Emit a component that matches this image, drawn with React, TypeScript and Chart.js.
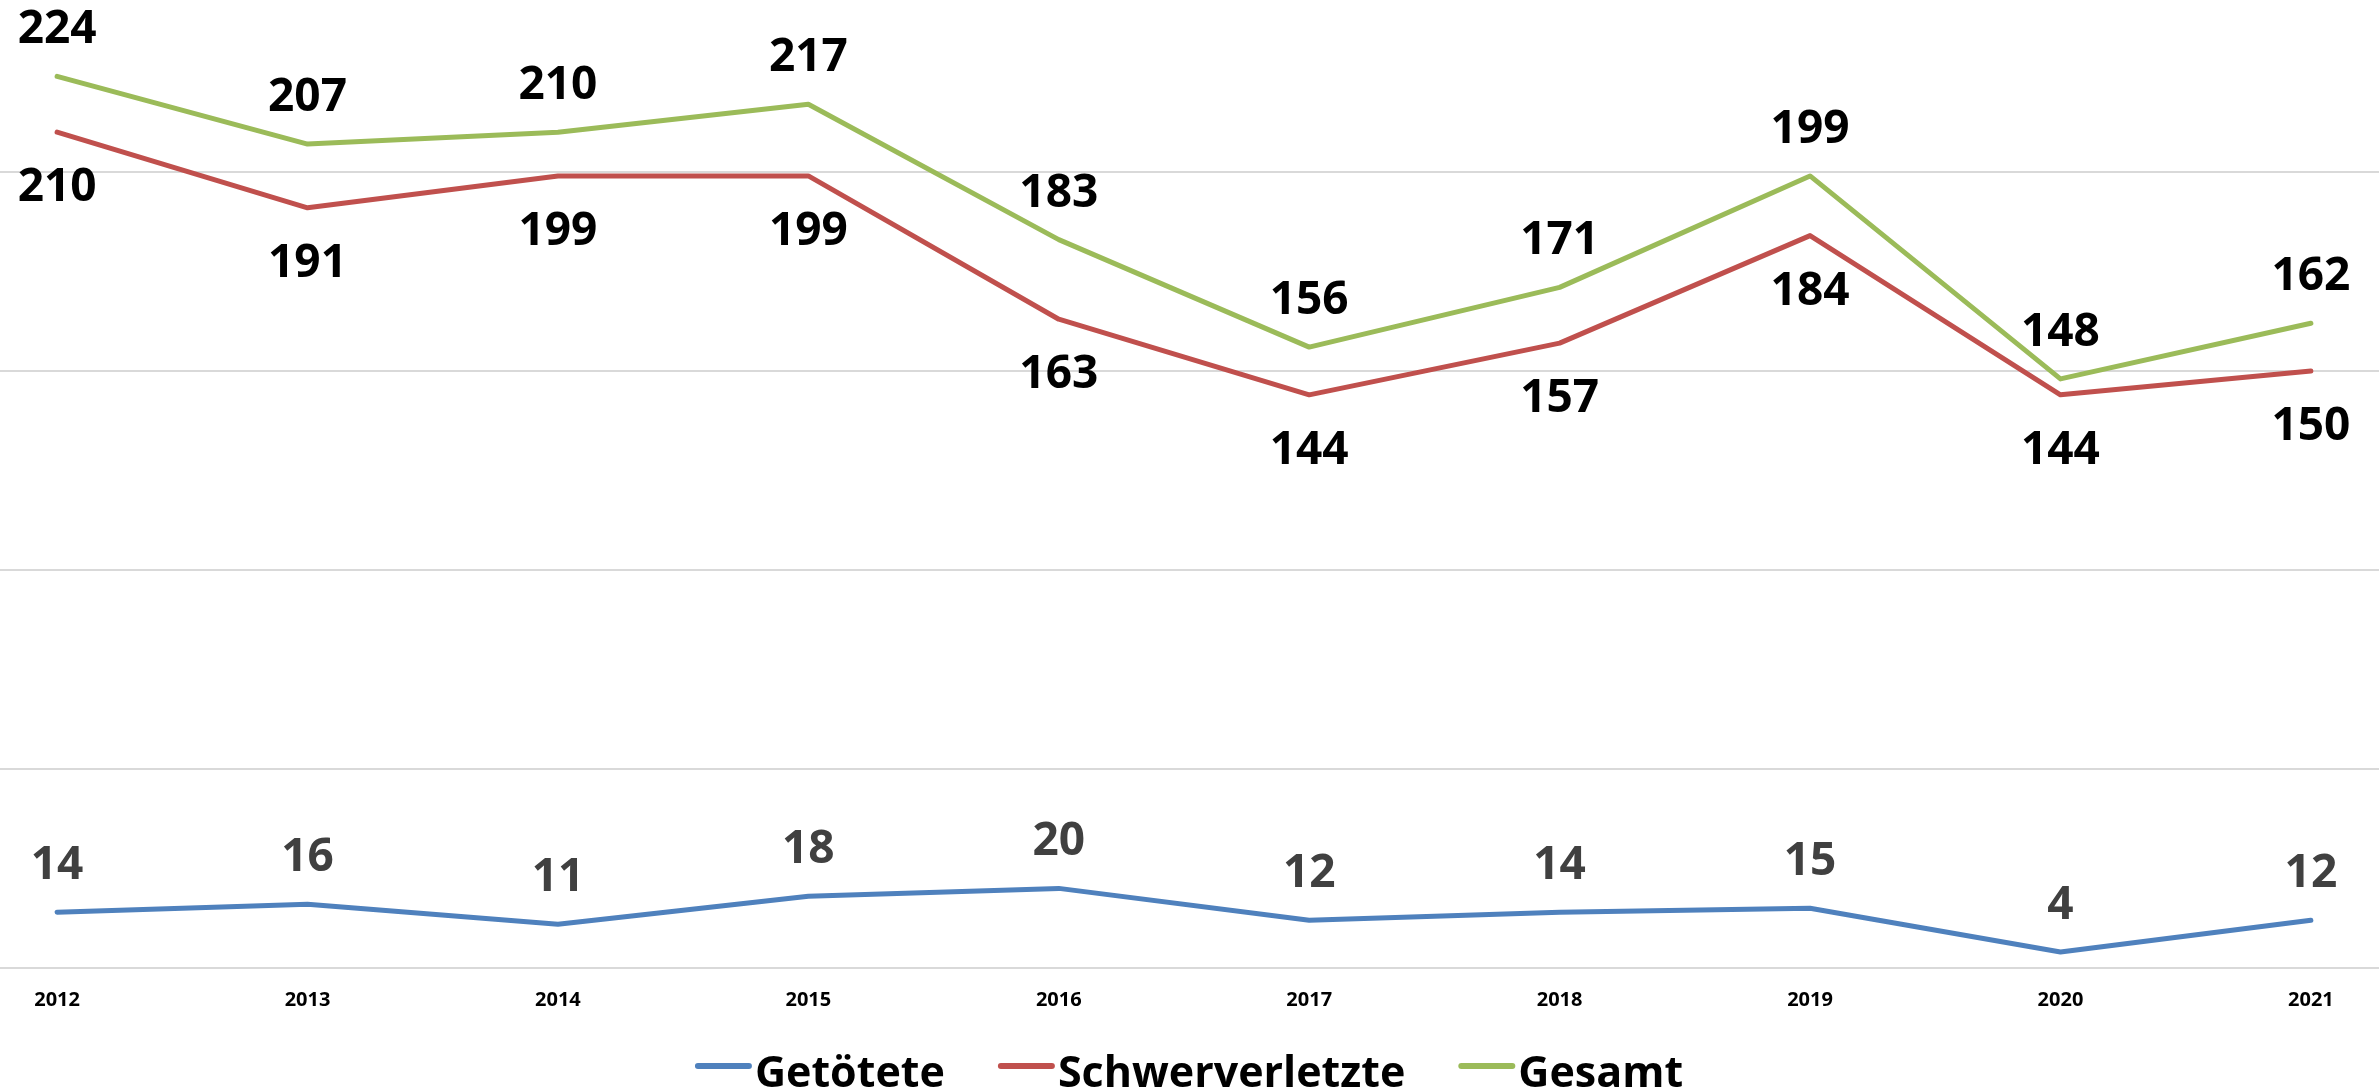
import React, { useEffect, useRef } from "react";
import { Chart, registerables } from "chart.js";

Chart.register(...registerables);

const years = [2012, 2013, 2014, 2015, 2016, 2017, 2018, 2019, 2020, 2021];
const getoetete = [14, 16, 11, 18, 20, 12, 14, 15, 4, 12];
const schwerverletzte = [210, 191, 199, 199, 163, 144, 157, 184, 144, 150];
const gesamt = [224, 207, 210, 217, 183, 156, 171, 199, 148, 162];
const seriesNames = ["Getötete", "Schwerverletzte", "Gesamt"];
const yGridValues = [0, 50, 100, 150, 200];

const FONT = "'Open Sans', 'DejaVu Sans', sans-serif";
const W = 2379;
const H = 1091;

const valueLabelPlugin = {
  id: "valueLabels",
  afterDatasetsDraw(chart: any, _args: any, opts: any) {
    const ctx = chart.ctx;
    ctx.save();
    ctx.font = `bold ${opts.size}px ${FONT}`;
    ctx.textAlign = "center";
    ctx.textBaseline = "alphabetic";
    chart.data.datasets.forEach((ds: any, i: number) => {
      const meta = chart.getDatasetMeta(i);
      const off = opts.offsets[i];
      ctx.fillStyle = opts.colors[i];
      meta.data.forEach((pt: any, j: number) => {
        const v = ds.data[j].y;
        ctx.fillText(String(v), pt.x, pt.y + off);
      });
    });
    ctx.restore();
  },
};

const legendPlugin = {
  id: "lineLegend",
  afterDraw(chart: any, _args: any, opts: any) {
    const ctx = chart.ctx;
    ctx.save();
    ctx.font = `bold ${opts.size}px ${FONT}`;
    ctx.textBaseline = "alphabetic";
    ctx.textAlign = "left";
    const items = chart.data.datasets.map((ds: any) => ({
      text: ds.label,
      color: ds.borderColor,
      w: ctx.measureText(ds.label).width,
    }));
    const total =
      items.reduce((s: number, it: any) => s + opts.swatch + opts.gap + it.w, 0) +
      opts.spacing * (items.length - 1);
    let x = chart.width / 2 - total / 2;
    items.forEach((it: any) => {
      ctx.strokeStyle = it.color;
      ctx.lineWidth = opts.lineWidth;
      ctx.lineCap = "round";
      ctx.beginPath();
      ctx.moveTo(x + 2, opts.swatchY);
      ctx.lineTo(x + opts.swatch - 2, opts.swatchY);
      ctx.stroke();
      x += opts.swatch + opts.gap;
      ctx.fillStyle = "#000";
      ctx.fillText(it.text, x, opts.baseline);
      x += it.w + opts.spacing;
    });
    ctx.restore();
  },
};

export default function App() {
  const ref = useRef<HTMLCanvasElement | null>(null);

  useEffect(() => {
    if (!ref.current) return;
    const mk = (vals: number[]) => years.map((x, i) => ({ x, y: vals[i] }));
    const colors = ["#4F81BD", "#C0504D", "#9BBB59"];
    const chart = new Chart(ref.current, {
      type: "line",
      data: {
        datasets: [getoetete, schwerverletzte, gesamt].map((vals, i) => ({
          label: seriesNames[i],
          data: mk(vals),
          borderColor: colors[i],
          backgroundColor: colors[i],
          borderWidth: 5,
          pointRadius: 0,
          pointHoverRadius: 0,
          tension: 0,
          borderCapStyle: "round",
          borderJoinStyle: "round",
          fill: false,
        })),
      },
      options: {
        responsive: false,
        animation: false,
        events: [],
        layout: { padding: 0, autoPadding: false },
        scales: {
          x: {
            type: "linear",
            min: 2011.772,
            max: 2021.272,
            afterBuildTicks: (axis: any) => {
              axis.ticks = years.map((v) => ({ value: v }));
            },
            afterFit: (axis: any) => {
              axis.height = H - 968;
            },
            grid: { display: false, drawTicks: false },
            border: { display: false },
            ticks: {
              autoSkip: false,
              maxRotation: 0,
              padding: 20,
              color: "#000",
              font: { family: FONT, size: 20, weight: "bold" },
              callback: (v: any) => String(v),
            },
          },
          y: {
            type: "linear",
            min: 0,
            max: 243.2,
            afterBuildTicks: (axis: any) => {
              axis.ticks = yGridValues.map((v) => ({ value: v }));
            },
            afterFit: (axis: any) => {
              axis.width = 0;
            },
            grid: { color: "#D9D9D9", lineWidth: 2, drawTicks: false },
            border: { display: false },
            ticks: { display: false },
          },
        },
        plugins: {
          legend: { display: false },
          tooltip: { enabled: false },
          valueLabels: {
            size: 46,
            offsets: [-33, 69, -33],
            colors: ["#404040", "#000000", "#000000"],
          },
          lineLegend: {
            size: 43,
            swatch: 55,
            gap: 4,
            spacing: 54,
            lineWidth: 6,
            swatchY: 1066,
            baseline: 1087,
          },
        } as any,
      },
      plugins: [valueLabelPlugin, legendPlugin],
    } as any);
    return () => chart.destroy();
  }, []);

  return (
    <div style={{ position: "absolute", left: 0, top: 0, width: W, height: H, background: "#fff" }}>
      <canvas ref={ref} width={W} height={H} style={{ display: "block" }} />
    </div>
  );
}
